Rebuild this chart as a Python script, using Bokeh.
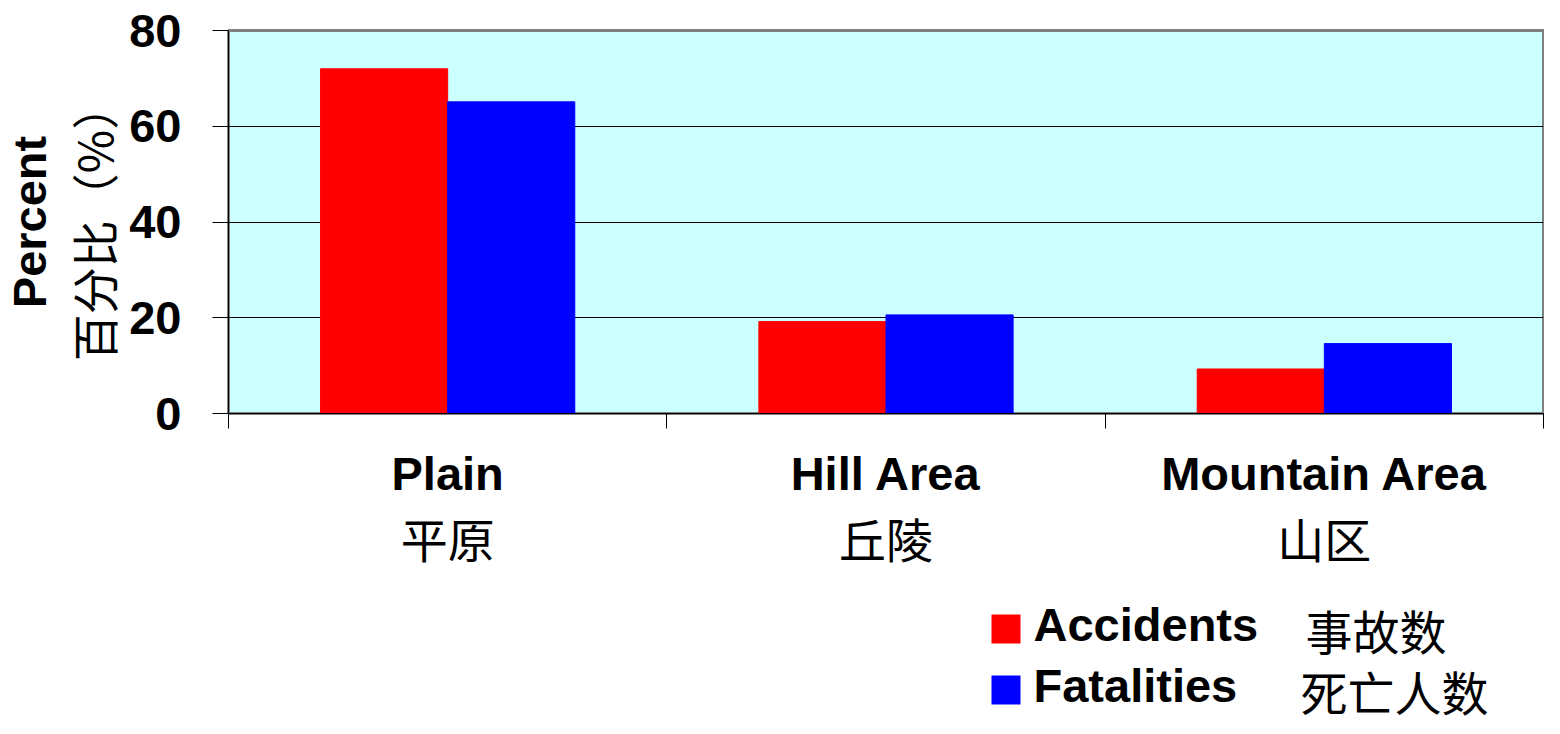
from bokeh.plotting import figure
from bokeh.layouts import column
from bokeh.models import (ColumnDataSource, Range1d, FixedTicker, LinearAxis, Title, Label, BoxAnnotation)
from bokeh.embed import file_html
from bokeh.resources import INLINE

# ---- data ----
categories_en = ["Plain", "Hill Area", "Mountain Area"]
categories_zh = ["平原", "丘陵", "山区"]
accidents = [72.0, 19.2, 9.3]
fatalities = [65.1, 20.6, 14.6]
series_en = ["Accidents", "Fatalities"]
series_zh = ["事故数", "死亡人数"]
series_colors = ["#FF0000", "#0000FF"]
y_ticks = [0, 20, 40, 60, 80]
y_title_en = "Percent"
y_title_zh = "百分比（%）"

EN_FONT = "Liberation Sans"
ZH_FONT = "Noto Sans CJK SC"
FS = "47px"
W = 1544
H_MAIN = 584
H_LEG = 134
FRAME_L, FRAME_R = 228, 1543

idx = list(range(len(categories_en)))
centers = [i + 0.5 for i in idx]
bar_w = 0.29
src = ColumnDataSource(dict(
    xa=[c - bar_w / 2 for c in centers],
    xf=[c + bar_w / 2 for c in centers],
    acc=accidents, fat=fatalities))

fig = figure(width=W, height=H_MAIN, output_backend="svg", toolbar_location=None,
             x_range=Range1d(0, len(categories_en)), y_range=Range1d(0, 80),
             min_border_left=FRAME_L, min_border_right=W - FRAME_R, min_border_top=30,
             min_border_bottom=H_MAIN - 413)

fig.background_fill_color = "#CCFFFF"
fig.border_fill_color = "white"
fig.outline_line_color = "#808080"
fig.outline_line_width = 3

fig.vbar(x="xa", top="acc", width=bar_w, bottom=0, source=src,
         fill_color=series_colors[0], line_color=series_colors[0])
fig.vbar(x="xf", top="fat", width=bar_w, bottom=0, source=src,
         fill_color=series_colors[1], line_color=series_colors[1])

# grids
fig.xgrid.visible = False
fig.ygrid.ticker = FixedTicker(ticks=[20, 40, 60])
fig.ygrid.grid_line_color = "black"
fig.ygrid.grid_line_width = 1

# y axis
fig.yaxis.ticker = FixedTicker(ticks=y_ticks)
fig.yaxis.major_tick_in = 0
fig.yaxis.major_tick_out = 16
fig.yaxis.minor_tick_line_color = None
fig.yaxis.major_label_standoff = 31
fig.yaxis.major_label_text_font = EN_FONT
fig.yaxis.major_label_text_font_style = "bold"
fig.yaxis.major_label_text_font_size = FS
fig.yaxis.major_label_text_color = "black"
fig.yaxis.axis_line_color = "black"
fig.yaxis.major_tick_line_color = "black"

# y titles (two lines, different weights)
fig.add_layout(Title(text=y_title_zh, align="center", offset=-15, standoff=0,
                     text_font=ZH_FONT, text_font_size=FS, text_font_style="normal",
                     text_color="black"), "left")
fig.add_layout(Title(text=y_title_en, align="center", offset=3, standoff=0,
                     text_font=EN_FONT, text_font_size=FS, text_font_style="bold",
                     text_color="black"), "left")

# x axis: tick marks at category boundaries only
fig.xaxis.ticker = FixedTicker(ticks=[0, 1, 2, 3])
fig.xaxis.major_label_overrides = {0: "", 1: "", 2: "", 3: ""}
fig.xaxis.major_label_standoff = 0
fig.xaxis.major_tick_in = 0
fig.xaxis.major_tick_out = 15
fig.xaxis.minor_tick_line_color = None
fig.xaxis.axis_line_color = "black"
fig.xaxis.major_tick_line_color = "black"

def label_axis(labels, font, style, standoff):
    ax = LinearAxis(ticker=FixedTicker(ticks=centers),
                    major_label_overrides={c: t for c, t in zip(centers, labels)})
    ax.axis_line_color = None
    ax.major_tick_line_color = None
    ax.minor_tick_line_color = None
    ax.major_tick_in = 0
    ax.major_tick_out = 0
    ax.major_label_standoff = standoff
    ax.major_label_text_font = font
    ax.major_label_text_font_style = style
    ax.major_label_text_font_size = FS
    ax.major_label_text_color = "black"
    fig.add_layout(ax, "below")
    return ax

label_axis(categories_en, EN_FONT, "bold", 18)
label_axis(categories_zh, ZH_FONT, "normal", 0)

# ---- legend strip (page-pixel coordinates; frame aligned with main frame; y up) ----
leg = figure(width=W, height=H_LEG, output_backend="svg", toolbar_location=None,
             x_range=Range1d(FRAME_L, FRAME_R), y_range=Range1d(0, H_LEG),
             x_axis_location=None, y_axis_location=None,
             min_border_left=FRAME_L, min_border_right=W - FRAME_R,
             min_border_top=0, min_border_bottom=0)
leg.grid.visible = False
leg.outline_line_color = None
leg.background_fill_color = "white"

key_left, key_size = 991, 29
rows_key_bottom = [75, 14]
en_y = [94, 33]
zh_y = [89, 28]
zh_left = [1305, 1300]
for i in range(2):
    leg.add_layout(BoxAnnotation(left=key_left, right=key_left + key_size,
                                 bottom=rows_key_bottom[i], top=rows_key_bottom[i] + key_size,
                                 fill_color=series_colors[i], fill_alpha=1.0, line_color=None))
    leg.add_layout(Label(x=1033, y=en_y[i], text=series_en[i], text_align="left",
                         text_baseline="alphabetic", text_font=EN_FONT, text_font_style="bold",
                         text_font_size=FS, text_color="black"))
    leg.add_layout(Label(x=zh_left[i], y=zh_y[i], text=series_zh[i], text_align="left",
                         text_baseline="alphabetic", text_font=ZH_FONT, text_font_style="normal",
                         text_font_size=FS, text_color="black"))

p = column(fig, leg, spacing=0)
open("out.html", "w").write(file_html(p, INLINE))
